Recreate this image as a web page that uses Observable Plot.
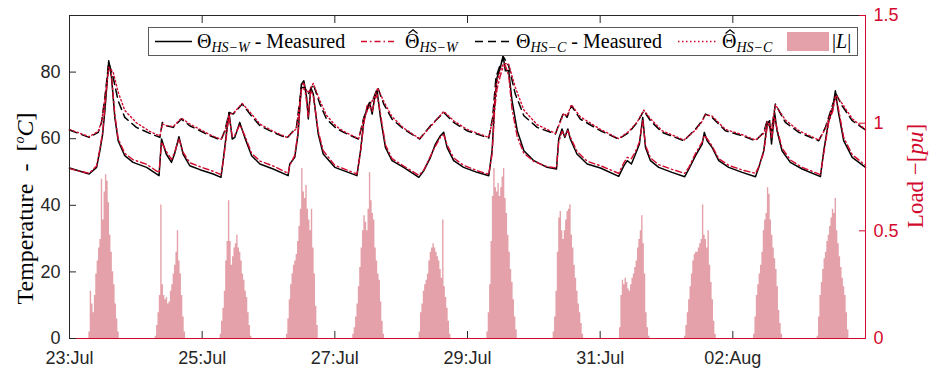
<!DOCTYPE html>
<html><head><meta charset="utf-8">
<script src="https://cdn.jsdelivr.net/npm/d3@7"></script>
<script src="https://cdn.jsdelivr.net/npm/@observablehq/plot@0.6"></script>
<style>
html,body{margin:0;padding:0;background:#fff;}
#wrap{position:relative;width:930px;height:377px;overflow:hidden;}
#legend{position:absolute;left:148px;top:27px;width:708px;height:27px;border:1px solid #5a5a5a;background:#fff;font-family:"Liberation Serif",serif;font-size:20px;color:#000;}
#legend .it{position:absolute;top:0;height:27px;line-height:27px;white-space:nowrap;}
#legend sub{font-style:italic;font-size:14px;vertical-align:-4px;line-height:0;}
#legend svg.s{position:absolute;top:0;}
.hat{position:relative;display:inline-block;}
.hat svg{position:absolute;left:2.5px;top:1px;}
.ylab{position:absolute;font-family:"Liberation Serif",serif;white-space:nowrap;transform-origin:center center;}
</style></head>
<body>
<div id="wrap"></div>
<script>
// ---------- data ----------
const startUTC = Date.UTC(2021, 6, 23);            // 23 Jul, 00:00
const endHour = 288;                               // 4 Aug, 00:00

// Hot-spot temperature, winding (hours since 23 Jul 00:00)
const wHours = [0,7.1,9.8,11,12,12.8,14.2,15.2,16.4,17.6,20,23,27.9,32.4,33.3,35,36.9,38,39.6,41.1,43.5,47.2,52,54.8,55.6,57.7,58.9,59.8,61.6,63.4,65.9,68.9,73.7,79.1,79.7,81.5,82.7,83.9,84.8,85.8,86.4,87.3,88.2,90,91.8,96,104,105.3,106.5,107.7,108.6,109.5,110.4,111.3,112.5,114.3,116.7,120.9,126.4,128.2,130.6,132.4,134.2,135.4,136.6,139,142.6,147.5,151.7,152.9,153.9,154.7,155.9,156.9,157.7,158.9,160.1,162,164.4,168,172.8,176.2,177,178.2,179.2,180.3,181.2,183.6,187.3,192.1,198.7,200.6,201.8,203.3,204.8,206.2,207.4,208.4,210.2,213.2,218,222.6,224.1,226.5,228.9,229.7,230.7,232.5,234.9,238.5,243.4,248.2,249.4,251.2,252.4,253.3,254,255.1,256,257.8,260.8,265.1,271.7,272.9,274.7,276.2,277.1,278.1,280.1,283.2,288];
const wMeasured = [51.2,49.4,51.4,56.4,61.4,68.4,83.4,78.4,66.4,59.4,54.9,52.9,51.4,48.9,59.9,55.4,52.9,55.4,60.6,55.4,51.9,50.7,49.4,48.4,53.4,67.9,59.9,60.4,64.9,60.4,54.9,52.4,50.9,48.9,52.4,54.4,61.4,76.4,77.4,72.4,65.9,75.4,73.4,61.4,55.4,51.4,48.9,56.4,65.4,69.4,70.9,67.4,72.4,74.4,66.4,57.4,53.4,51.4,48.4,50.4,54.4,58.4,60.9,61.9,57.4,53.4,51.4,49.9,48.9,56.4,71.4,78.4,81.4,84.9,80.4,80.4,71.4,62.4,56.4,53.4,51.4,50.9,59.9,62.9,60.4,62.9,59.9,55.4,52.4,51.2,48.7,51.9,53.4,52.4,55.4,58.4,66.4,57.4,53.4,51.4,49.9,48.6,50.9,54.9,58.4,61.9,59.4,57.4,53.4,51.4,49.9,48.6,51.4,56.4,64.4,65.4,58.4,67.9,62.4,56.4,52.9,50.9,48.6,56.4,65.4,69.4,74.4,68.4,59.4,54.4,51.4];
const wEstimated = [51.0,49.6,51.8,57.0,62.0,69.5,82.4,79.0,67.2,60.0,55.6,53.7,52.3,49.8,59.0,56.2,53.8,55.8,60.0,56.0,52.8,51.6,50.2,49.2,53.0,67.0,60.6,61.0,64.2,61.0,55.6,53.3,51.8,49.6,52.0,55.0,62.0,75.2,77.0,71.0,66.5,74.6,73.0,62.2,56.4,52.0,49.4,56.0,64.6,70.0,69.8,68.2,71.4,73.2,67.5,58.2,54.0,51.8,49.0,50.6,54.8,57.8,60.4,61.2,58.2,54.2,52.0,50.4,49.3,55.4,69.5,75.0,79.0,81.5,82.0,79.0,69.0,60.6,55.6,53.2,51.6,51.2,59.0,62.2,60.8,62.4,60.5,56.2,53.2,51.9,49.6,52.8,54.4,54.0,56.2,59.0,65.5,58.0,54.2,52.2,50.8,49.6,51.4,55.6,59.0,61.0,60.0,57.8,54.0,52.0,50.6,49.6,51.6,56.0,63.4,64.6,60.0,66.5,63.0,57.2,53.6,51.4,49.2,55.6,65.0,68.4,72.5,69.5,60.4,55.2,52.0];

// Hot-spot temperature, core
const cHours = [0,7.1,10.4,11.6,12.8,14.2,15.8,17.6,20,24.2,29,32.7,33.6,35.1,37.5,40.5,43.5,47.2,50.8,54.8,56.2,57.8,59.2,62.5,65.3,68.9,73.7,78.7,82.1,83.9,85.1,86.4,88.2,90.6,93,96.4,99.2,104.6,106.5,108.6,110.1,111.5,113.7,116.7,120.9,126.7,130.6,135.4,139,143.8,151.7,153.1,154.3,155.9,157.1,158.9,161.3,164.4,169.2,175.8,177.6,178.8,180,181.6,184.8,192.1,198.7,202.4,205.4,207.8,210.2,214.4,222.3,226.5,228.9,230.1,232.5,237.3,243.4,248.2,251.2,252.4,254,255.4,259,263.9,271.1,273.5,276,277.4,279.5,283.2,288];
const cMeasured = [62.6,60.4,61.9,64.9,72.4,82.9,78.4,71.4,66.4,63.4,61.6,60.4,64.9,63.9,63.4,65.9,63.9,62.4,60.9,59.6,62.4,67.9,67.4,70.4,67.4,63.9,61.9,60.2,63.4,75.4,75.4,73.4,76.4,70.4,65.9,63.2,61.9,59.9,66.4,70.4,72.4,75.4,70.4,65.9,62.9,59.9,63.9,67.9,64.9,62.4,60.2,66.4,78.4,82.4,84.4,81.9,73.4,66.9,63.4,61.4,65.4,67.9,66.4,69.9,65.9,62.4,59.9,61.9,64.9,68.4,65.4,61.9,59.4,62.9,65.4,67.4,66.4,62.4,60.9,59.4,61.9,65.4,62.4,70.4,64.9,61.9,59.4,63.4,69.9,73.4,69.9,65.4,62.6];
const cEstimated = [62.8,60.6,62.2,65.2,72.0,81.5,80.0,74.0,68.5,64.8,62.2,60.8,64.4,64.0,63.6,66.2,64.4,62.8,61.2,59.8,62.0,67.4,67.6,70.6,68.0,64.4,62.2,60.4,63.0,74.8,75.0,73.8,76.6,71.4,67.0,63.8,62.2,60.0,66.0,70.0,72.2,75.2,71.2,66.6,63.2,60.0,63.6,68.2,65.4,62.8,60.4,65.6,76.0,80.6,82.6,82.4,75.4,68.6,64.2,61.6,65.0,67.6,66.8,70.2,66.6,62.8,60.0,62.2,65.0,68.6,66.0,62.4,59.6,62.6,65.2,67.2,66.8,62.8,61.2,59.6,61.6,65.0,63.0,70.2,65.6,62.4,59.6,63.0,69.4,73.0,70.6,66.0,62.8];

// Load |L| in pu, half-hourly from 06:00 to 18:00 each day
const loadFirstHour = 6, loadStepHours = 0.5;
const loadJul23 = [0,0,0.03,0.22,0.16,0.12,0.2,0.3,0.36,0.42,0.46,0.74,0.55,0.68,0.76,0.73,0.63,0.48,0.4,0.31,0.25,0.16,0.09,0.03,0];
const loadJul24 = [0,0,0.01,0.06,0.12,0.2,0.62,0.25,0.2,0.18,0.19,0.16,0.17,0.22,0.25,0.3,0.34,0.4,0.5,0.36,0.3,0.2,0.1,0.03,0];
const loadJul25 = [0,0.02,0.08,0.14,0.22,0.36,0.45,0.64,0.45,0.34,0.38,0.42,0.44,0.48,0.42,0.4,0.36,0.3,0.27,0.22,0.19,0.12,0.06,0.01,0];
const loadJul26 = [0,0.02,0.09,0.18,0.25,0.3,0.34,0.36,0.39,0.45,0.52,0.6,0.79,0.68,0.65,0.71,0.6,0.55,0.5,0.6,0.42,0.3,0.15,0.06,0];
const loadJul27 = [0,0.02,0.05,0.1,0.16,0.24,0.33,0.42,0.5,0.57,0.54,0.5,0.6,0.77,0.64,0.58,0.55,0.42,0.36,0.3,0.27,0.17,0.08,0.02,0];
const loadJul28 = [0,0.03,0.12,0.16,0.22,0.25,0.27,0.3,0.36,0.4,0.42,0.44,0.42,0.4,0.38,0.36,0.32,0.28,0.55,0.24,0.19,0.14,0.08,0.02,0];
const loadJul29 = [0,0,0.03,0.12,0.25,0.45,0.66,0.79,0.7,0.68,0.72,0.66,0.7,0.75,0.79,0.65,0.58,0.48,0.4,0.32,0.26,0.18,0.1,0.04,0];
const loadJul30 = [0,0,0.03,0.1,0.22,0.4,0.56,0.59,0.5,0.46,0.5,0.55,0.59,0.6,0.62,0.48,0.42,0.34,0.28,0.22,0.16,0.12,0.07,0.02,0];
const loadJul31 = [0,0,0.05,0.2,0.27,0.25,0.28,0.26,0.23,0.22,0.25,0.28,0.3,0.33,0.36,0.42,0.46,0.5,0.57,0.44,0.3,0.12,0.05,0.01,0];
const loadAug01 = [0,0.01,0.06,0.12,0.18,0.24,0.3,0.36,0.39,0.4,0.4,0.42,0.44,0.46,0.62,0.48,0.46,0.42,0.5,0.34,0.26,0.18,0.08,0.02,0];
const loadAug02 = [0,0,0,0.02,0.1,0.2,0.25,0.3,0.34,0.4,0.5,0.55,0.58,0.7,0.67,0.55,0.48,0.42,0.37,0.32,0.24,0.13,0.07,0.02,0];
const loadAug03 = [0,0.01,0.1,0.2,0.26,0.32,0.37,0.4,0.45,0.48,0.52,0.56,0.6,0.58,0.65,0.5,0.44,0.38,0.33,0.28,0.24,0.2,0.12,0.04,0];
const loadDays = [loadJul23,loadJul24,loadJul25,loadJul26,loadJul27,loadJul28,loadJul29,loadJul30,loadJul31,loadAug01,loadAug02,loadAug03];

// axes
const tempMax = 97, loadMax = 1.5;
const tempTicks = [0,20,40,60,80];
const loadTicks = [0,0.5,1,1.5];
const loadTickLabels = ["0","0.5","1","1.5"];
const dateTickDays = [0,2,4,6,8,10];
const dateTickLabels = ["23:Jul","25:Jul","27:Jul","29:Jul","31:Jul","02:Aug"];

// ---------- build ----------
const red = "#d20a2e";
const toDate = h => new Date(startUTC + h * 3600e3);
const k = tempMax / loadMax; // load pu -> left-axis units
const wRows = wHours.map((h, i) => ({date: toDate(h), meas: wMeasured[i], est: wEstimated[i]}));
const cRows = cHours.map((h, i) => ({date: toDate(h), meas: cMeasured[i], est: cEstimated[i]}));
const loadRows = loadDays.flatMap((arr, d) => arr.map((v, i) => ({day: d, date: toDate(24 * d + loadFirstHour + loadStepHours * i), zero: 0, y: v * k})));
const dateTicks = dateTickDays.map(d => toDate(24 * d));
const dateLabel = t => dateTickLabels[dateTicks.findIndex(x => +x === +t)];
const loadLabel = v => loadTickLabels[loadTicks.findIndex(x => Math.abs(x * k - v) < 1e-6)];

const chart = Plot.plot({
  width: 930, height: 377,
  marginLeft: 69, marginRight: 65, marginTop: 15, marginBottom: 39,
  style: {fontFamily: "'Liberation Sans', Arial, sans-serif", fontSize: "18px", color: "#262626", background: "#fff", overflow: "visible"},
  x: {type: "utc", domain: [toDate(0), toDate(endHour)]},
  y: {domain: [0, tempMax]},
  marks: [
    Plot.area(loadRows, {x1: "date", y1: "zero", y2: "y", z: "day", curve: "step-after", fill: "#e4a1a9"}),
    Plot.line(wRows, {x: "date", y: "meas", stroke: "#000", strokeWidth: 1.5}),
    Plot.line(wRows, {x: "date", y: "est", stroke: red, strokeWidth: 1.4, strokeDasharray: "6,3,1.5,3"}),
    Plot.line(cRows, {x: "date", y: "meas", stroke: "#000", strokeWidth: 1.5, strokeDasharray: "8,5"}),
    Plot.line(cRows, {x: "date", y: "est", stroke: red, strokeWidth: 1.4, strokeDasharray: "1.5,2.5"}),
    Plot.ruleY([tempMax], {stroke: "#262626", strokeWidth: 1}),
    Plot.ruleX([toDate(0)], {stroke: "#262626", strokeWidth: 1}),
    Plot.ruleX([toDate(endHour)], {stroke: red, strokeWidth: 1}),
    Plot.ruleY([0], {stroke: red, strokeWidth: 1.2}),
    Plot.axisY({anchor: "left", ticks: tempTicks, tickSize: 0, tickPadding: 9, label: null, color: "#262626"}),
    Plot.axisY({anchor: "left", ticks: tempTicks, tickSize: -7, tickFormat: () => "", label: null, stroke: "#262626"}),
    Plot.axisY({anchor: "right", ticks: loadTicks.map(v => v * k), tickFormat: loadLabel, tickSize: 0, tickPadding: 8, label: null, color: red}),
    Plot.axisY({anchor: "right", ticks: loadTicks.map(v => v * k), tickSize: -7, tickFormat: () => "", label: null, stroke: red}),
    Plot.axisX({anchor: "bottom", ticks: dateTicks, tickFormat: dateLabel, tickSize: 0, tickPadding: 13, label: null, color: "#262626"}),
    Plot.axisX({anchor: "bottom", ticks: dateTicks, tickSize: -7, tickFormat: () => "", label: null, stroke: "#262626"}),
    Plot.axisX({anchor: "top", ticks: dateTicks, tickSize: -7, tickFormat: () => "", label: null, stroke: "#262626"})
  ]
});

const wrap = document.getElementById("wrap");
wrap.appendChild(chart);

// y-axis titles
const lt = document.createElement("div");
lt.className = "ylab";
lt.style.fontSize = "24px";
lt.innerHTML = "Temperature&nbsp;&nbsp;-&nbsp;&nbsp;[<sup style='font-size:14px;font-style:italic'>o</sup><i>C</i>]";
lt.style.color = "#000";
wrap.appendChild(lt);
const rt = document.createElement("div");
rt.className = "ylab";
rt.style.fontSize = "23px";
rt.innerHTML = "Load&nbsp;&minus;[<i>pu</i>]";
rt.style.color = red;
wrap.appendChild(rt);
function placeRot(el, cx, cy) {
  const w = el.offsetWidth, h = el.offsetHeight;
  el.style.left = (cx - w / 2) + "px";
  el.style.top = (cy - h / 2) + "px";
  el.style.transform = "rotate(-90deg)";
}
placeRot(lt, 26, 208);
placeRot(rt, 916, 176);

// legend
const lg = document.createElement("div");
lg.id = "legend";
const sample = (left, width, attrs) => `<svg class="s" style="left:${left}px" width="${width}" height="27"><line x1="0" x2="${width}" y1="13.5" y2="13.5" ${attrs}/></svg>`;
const item = (left, html) => `<span class="it" style="left:${left}px">${html}</span>`;
const hatTheta = `<span class="hat">&Theta;<svg width="10" height="5"><polyline points="0.5,4.5 5,0.8 9.5,4.5" fill="none" stroke="#000" stroke-width="1.1"/></svg></span>`;
lg.innerHTML =
  sample(6, 37, `stroke="#000" stroke-width="1.5"`) +
  item(48, "&Theta;<sub>HS&minus;W</sub> - Measured") +
  sample(212, 33, `stroke="${red}" stroke-width="1.4" stroke-dasharray="6,3,1.5,3"`) +
  item(256, hatTheta + "<sub>HS&minus;W</sub>") +
  sample(326, 34, `stroke="#000" stroke-width="1.5" stroke-dasharray="8,5"`) +
  item(367, "&Theta;<sub>HS&minus;C</sub> - Measured") +
  sample(529, 40, `stroke="${red}" stroke-width="1.4" stroke-dasharray="1.5,2.5"`) +
  item(573, hatTheta + "<sub>HS&minus;C</sub>") +
  `<svg class="s" style="left:638px;top:4px" width="42" height="19"><rect width="42" height="19" fill="#e4a1a9"/></svg>` +
  item(683, "|<i>L</i>|");
wrap.appendChild(lg);
</script>
</body></html>
